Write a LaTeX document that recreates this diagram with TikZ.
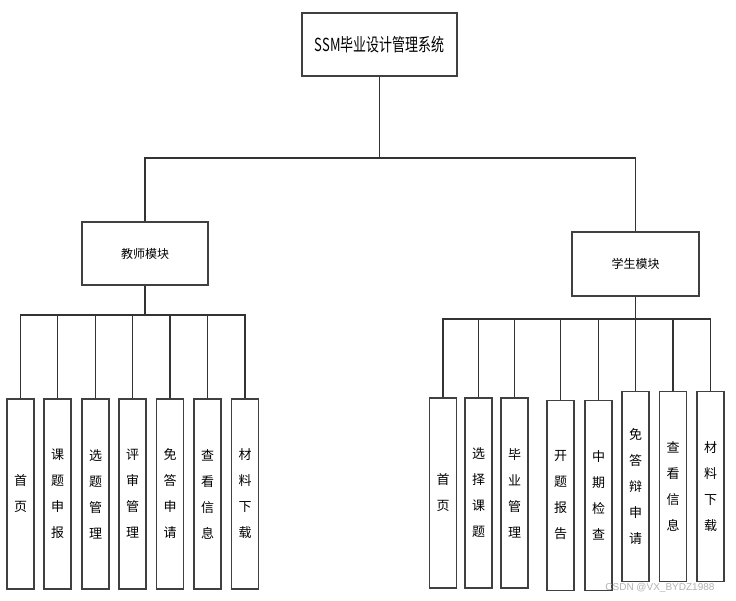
\documentclass[tikz,border=0pt]{standalone}
\usepackage{fontspec}
\newfontfamily\cjk{Noto Sans CJK SC}
\newfontfamily\wmfont{Liberation Sans}
\usetikzlibrary{positioning}
\tikzset{
  box/.style={draw=black!75, line width=1.2pt, fill=white, inner sep=0pt},
  topbox/.style={box, minimum width=155pt, minimum height=63pt},
  modbox/.style={box, minimum width=126pt, minimum height=63pt, font=\cjk\fontsize{12}{14}\selectfont},
  leaf/.style={box, minimum width=27pt, minimum height=190pt, align=center, font=\cjk\fontsize{13}{26}\selectfont},
  conn/.style={draw=black!80, line width=1.3pt}
}
\begin{document}
\begin{tikzpicture}[x=1pt,y=-1pt]
\useasboundingbox (0,0) rectangle (736,601);
% root
\node[topbox] (root) at (379.5,44.5) {\scalebox{0.72}[1]{\cjk\fontsize{18}{20}\selectfont SSM毕业设计管理系统}};
% modules
\node[modbox] (tmod) at (145,253.5) {教师模块};
\node[modbox, minimum width=127pt, minimum height=64pt] (smod) at (635.5,264) {学生模块};
% teacher leaves
\node[leaf] (t1) at (20.5,494) {首\\页};
\node[leaf] (t2) at (57.5,494) {课\\题\\申\\报};
\node[leaf] (t3) at (95.5,494) {选\\题\\管\\理};
\node[leaf] (t4) at (132.5,494) {评\\审\\管\\理};
\node[leaf] (t5) at (170,494) {免\\答\\申\\请};
\node[leaf] (t6) at (207.5,494) {查\\看\\信\\息};
\node[leaf] (t7) at (245,494) {材\\料\\下\\载};
% student leaves
\node[leaf] (s1) at (443,493) {首\\页};
\node[leaf] (s2) at (478.5,493) {选\\择\\课\\题};
\node[leaf] (s3) at (514.5,493) {毕\\业\\管\\理};
\node[leaf] (s4) at (560.5,495.5) {开\\题\\报\\告};
\node[leaf] (s5) at (598.5,495.5) {中\\期\\检\\查};
\node[leaf] (s6) at (635.5,486.5) {免\\答\\辩\\申\\请};
\node[leaf] (s7) at (673,486.5) {查\\看\\信\\息};
\node[leaf] (s8) at (710.5,486.5) {材\\料\\下\\载};
% connectors root -> modules
\coordinate (rbus) at (379.5,158);
\draw[conn] (root.south) -- (rbus) -| (tmod.north);
\draw[conn] (rbus) -| (smod.north);
% teacher bus
\coordinate (tbus) at (145,315);
\draw[conn] (tmod.south) -- (tbus);
\foreach \n in {t1,t2,t3,t4,t5,t6,t7} {
  \draw[conn] (tbus) -| (\n.north);
}
% student bus
\coordinate (sbus) at (635.5,319);
\draw[conn] (smod.south) -- (sbus);
\foreach \n in {s1,s2,s3,s4,s5,s6,s7,s8} {
  \draw[conn] (sbus) -| (\n.north);
}
% watermark
\node[text=black!30, font=\wmfont\fontsize{10}{12}\selectfont, anchor=east] (wm) at (718,588) {CSDN @VX\_BYDZ1988};
\end{tikzpicture}
\end{document}
